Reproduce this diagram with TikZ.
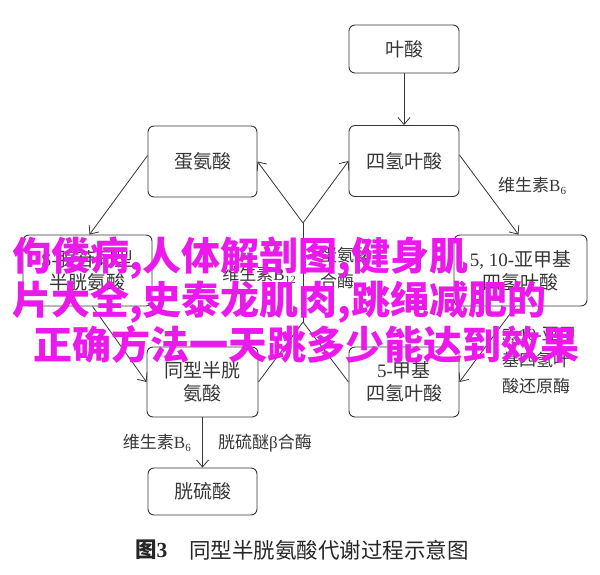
\documentclass[tikz,border=0pt]{standalone}
\usepackage{fontspec}
\setmainfont{Noto Sans CJK SC}
\newfontfamily\lat{Liberation Serif}
\usetikzlibrary{arrows.meta,calc}
\definecolor{ink}{RGB}{55,55,55}
\definecolor{mag}{RGB}{235,25,235}
\tikzset{
 box/.style={draw=ink, line width=0.9pt, rounded corners=6pt, minimum width=110pt, minimum height=71pt, inner sep=0pt, align=center, text=ink, font=\fontsize{19}{23}\selectfont},
 conn/.style={draw=ink, line width=0.8pt, -{Straight Barb[length=7pt,width=12pt]}},
 plain/.style={draw=ink, line width=0.8pt},
 lbl/.style={text=ink, font=\fontsize{17}{26}\selectfont, inner sep=0pt, align=left},
 ov/.style={text=mag, font=\fontsize{39}{44}\selectfont\bfseries, inner sep=0pt, anchor=west},
}
\begin{document}
\begin{tikzpicture}[x=1pt,y=-1pt]
\useasboundingbox (0,0) rectangle (600,574);
\fill[white] (0,0) rectangle (600,574);
% boxes
\node[box, minimum height=48pt] (ys) at (404,49) {叶酸};
\node[box] (thf) at (404,161) {四氢叶酸};
\node[box, minimum width=109pt] (met) at (202.5,161.5) {蛋氨酸};
\node[box, minimum width=129pt] (sah) at (87.5,270.5) {{\lat S-}腺苷同型\\半胱氨酸};
\node[box, minimum width=133pt] (mthf) at (520.5,270.5) {{\lat 5, 10-}亚甲基\\四氢叶酸};
\node[box, minimum width=111pt, minimum height=70pt] (hcy) at (202.5,382) {同型半胱\\氨酸};
\node[box, minimum height=70pt] (methyl) at (404,382) {{\lat 5-}甲基\\四氢叶酸};
\node[box, minimum width=109pt, minimum height=47pt] (cys) at (202.5,491.5) {胱硫酸};
% junctions
\coordinate (jt) at (303,223);
\coordinate (jb) at (303,322);
% connectors
\draw[conn] (ys) -- (thf);
\draw[conn] ([yshift=6pt]met.west) -- ([xshift=2pt]sah.north);
\draw[conn] ([xshift=5pt]sah.south) -- (hcy.west);
\draw[plain] (hcy.east) -- (jb);
\draw[plain] (methyl.west) -- (jb);
\draw[plain] (jb) -- (jt);
\draw[conn] (jt) -- (met.east);
\draw[conn] (jt) -- (thf.west);
\draw[conn] ([yshift=6pt]thf.east) -- ([xshift=-2pt]mthf.north);
\draw[conn] ([xshift=-5pt]mthf.south) -- (methyl.east);
\draw[conn] (hcy) -- (cys);
% labels
\node[lbl, anchor=west] (l1) at (498,186) {维生素{\lat B\raisebox{-0.3ex}{\fontsize{11}{11}\selectfont 6}}};
\node[lbl, anchor=east] (l2) at (296,275) {维生素{\lat B\raisebox{-0.3ex}{\fontsize{11}{11}\selectfont 12}}};
\node[lbl, anchor=west] (l3) at (320,268) {蛋氨酸\\合酶};
\node[lbl, anchor=west] (l4) at (502,361) {{\lat 5, 10-}亚甲\\基四氢叶\\酸还原酶};
\node[lbl, anchor=east] (l5) at (191,443) {维生素{\lat B\raisebox{-0.3ex}{\fontsize{11}{11}\selectfont 6}}};
\node[lbl, anchor=west] (l6) at (218,443) {胱硫醚{\lat β}合酶};
% caption
\node[text=black!85, font=\fontsize{21.5}{24}\selectfont\bfseries, anchor=west, inner sep=0pt] (c1) at (135,550) {图{\lat\bfseries 3}};
\node[text=black!85, font=\fontsize{21.5}{24}\selectfont, anchor=west, inner sep=0pt] (c2) at (189,550) {同型半胱氨酸代谢过程示意图};
% overlay
\node[ov] (o1) at (12,258) {佝偻病,人体解剖图,健身肌};
\node[ov] (o2) at (12,302) {片大全,史泰龙肌肉,跳绳减肥的};
\node[ov] (o3) at (33,344) {正确方法一天跳多少能达到效果};
\end{tikzpicture}
\end{document}
